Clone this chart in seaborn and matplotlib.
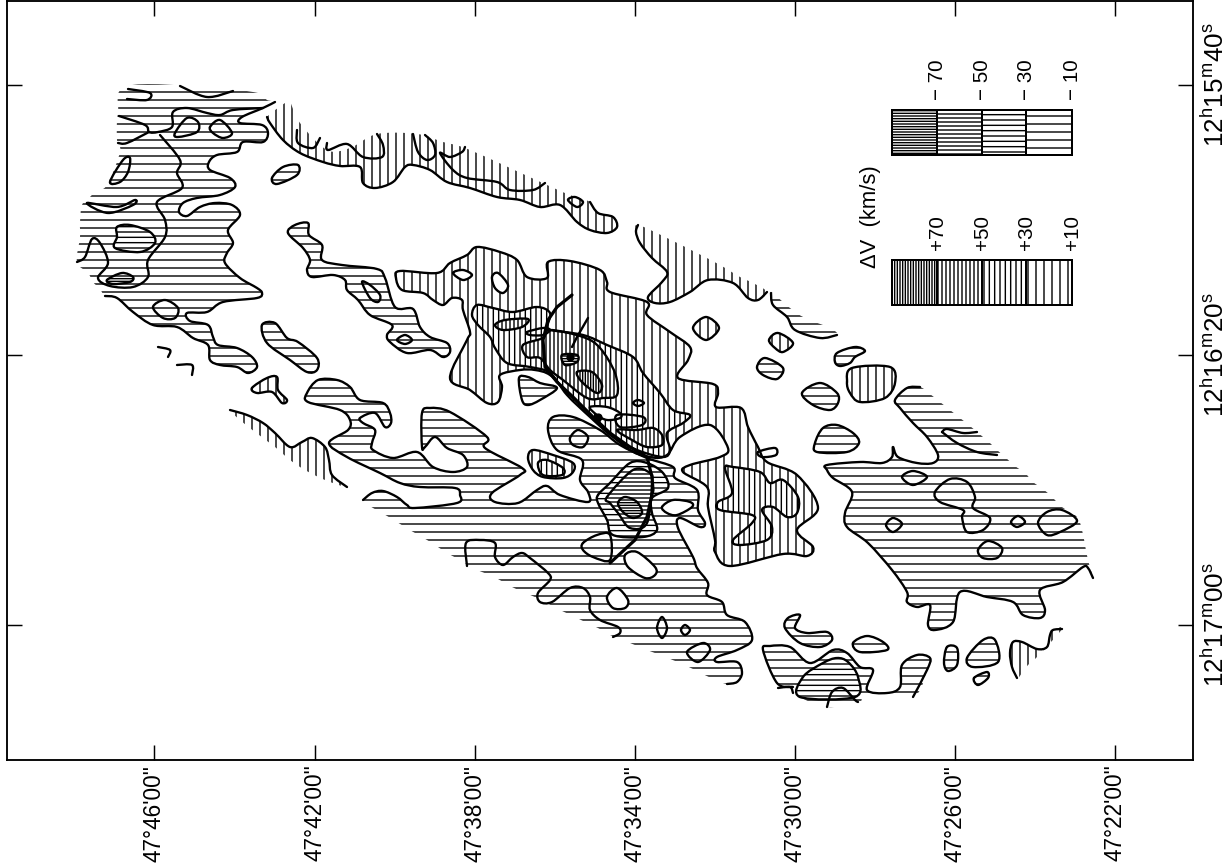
import numpy as np
import matplotlib
matplotlib.use('Agg')
import matplotlib.pyplot as plt
from matplotlib.path import Path
from matplotlib.patches import PathPatch, Rectangle
import pandas as pd
import seaborn as sns

dec_ticks = [154, 315, 475, 635, 795, 955, 1115]
dec_labels = ['47°46\'00"', '47°42\'00"', '47°38\'00"', '47°34\'00"', '47°30\'00"', '47°26\'00"', '47°22\'00"']
ra_ticks = [85, 355, 625]
ra_labels = ['12$^{h}$15$^{m}$40$^{s}$', '12$^{h}$16$^{m}$20$^{s}$', '12$^{h}$17$^{m}$00$^{s}$']

plus_levels = ['+70', '+50', '+30', '+10']
minus_levels = ['\u2212 70', '\u2212 50', '\u2212 30', '\u2212 10']

# --- approaching side (horizontal hatch)
nw_line = [(105,296),(117,298),(133,312),(153,325),(177,327),(193,338),(208,345),(210,360),(220,365),(237,367),
           (248,373),(257,367),(252,357),(237,348),(218,345),(213,337),(208,325),(190,321),(187,313),(207,312),
           (223,302),(257,298),(262,293),(257,288),(240,278),(225,263),(227,253),(233,243),(228,230),(240,215),
           (232,205),(215,203),(200,207),(187,216),(179,212),(183,203),(197,198),(220,195),(235,187),(230,178),
           (210,170),(209,162),(217,155),(237,152),(243,142),(263,142),(268,133),(262,125),(240,123),(242,117),
           (263,108),(275,102)]
nw_env = [(267,100),(258,93),(207,87),(127,86),(118,113),(117,140),(120,152),(107,185),(95,192),(90,197),
          (82,205),(80,223),(80,237),(77,262),(88,273),(93,282),(100,289)]
nw_inner_a = [(128,89),(150,93),(147,100),(127,99)]
nw_inner_b = [(180,86),(207,97),(233,91)]
nw_inner_c = [(119,116),(145,125),(149,132),(158,132),(172,127),(173,112),(187,108),(207,113),(220,115),(233,110),(263,108)]
nw_inner_d = [(149,132),(127,143),(118,143)]
nw_inner_e = [(160,135),(180,160),(177,173),(182,188),(157,202),(165,220),(165,237),(148,260),(148,277),(133,287),
              (110,286),(98,278),(108,263),(100,243),(92,239),(85,257),(77,262)]
nw_leaf = [(87,203),(108,213),(133,205),(135,200),(117,207)]
nw_patch_g = [(117,227),(130,225),(150,232),(155,243),(140,252),(115,248),(117,237)]
nw_patch_h = [(107,280),(122,273),(133,277),(130,282),(113,284)]
nw_ring_i = [(175,133),(187,118),(198,122),(197,132),(178,137)]
nw_ring_j = [(210,127),(220,120),(232,133),(223,138),(213,133)]
nw_ring_k = [(110,182),(123,160),(130,158),(128,172),(120,182)]
nw_ring_l = [(153,307),(165,300),(178,308),(175,318),(163,318)]
nw_tick_m = [(158,347),(170,350),(168,357)]
nw_tick_n = [(177,365),(192,365),(192,375)]

blob_r = [(262,325),(275,323),(287,338),(298,342),(317,358),(317,370),(307,372),(290,360),(267,343)]
blob_s = [(272,178),(283,167),(298,165),(297,175),(277,184)]
chain = [(288,233),(295,225),(308,223),(309,235),(322,245),(322,260),(342,265),(377,269),(385,278),(395,307),
         (413,309),(420,327),(430,337),(447,343),(450,352),(443,357),(430,350),(407,353),(390,342),(387,335),
         (392,325),(370,315),(358,300),(347,290),(345,280),(333,275),(312,277),(307,270),(310,260),(303,248)]
chain_in_a = [(362,282),(370,285),(380,295),(378,302),(370,298)]
chain_in_b = [(397,340),(405,335),(412,340),(405,344)]

south_line = [(363,500),(372,493),(383,491),(397,497),(407,505),(415,508),(457,503),(460,495),(455,488),(420,487),
              (400,483),(380,473),(347,457),(329,443),(348,430),(350,420),(340,410),(308,402),(307,393),(318,380),
              (337,380),(350,387),(360,400),(383,403),(390,413),(391,423),(385,427),(375,413),(360,418),(363,423),
              (375,430),(372,443),(373,450),(393,458),(417,452),(433,467),(453,472),(467,467),(463,455),(447,448),
              (435,437),(425,447),(422,447),(422,413),(430,408),(450,412),(487,437),(485,448),(522,468),(520,475),
              (492,493),(495,502),(518,503),(537,490),(547,486),(560,495),(588,502),(588,492),(580,480),(582,460),
              (557,450),(548,430),(553,417),(573,417),(600,430),(620,445),(647,458),(673,467),(675,478),(697,490),
              (698,510),(705,523),(700,527),(680,518),(678,528),(693,557),(697,568),(708,583),(707,595),(722,602),
              (727,615),(745,622),(752,640),(737,650),(717,657),(717,662),(737,662),(742,673),(737,682),(727,684)]
south_env = [(713,679),(697,671),(680,663),(660,655),(642,648),(623,640),(610,635),(598,628),(585,622),(573,616),
             (560,610),(537,598),(523,592),(510,586),(498,579),(487,574),(473,568),(460,560),(447,553),(435,545),
             (422,537),(408,529),(397,522),(382,513),(368,505)]
south_ring = [(570,438),(578,430),(588,437),(583,447),(573,445)]
south_notch = [(467,566),(466,543),(480,540),(495,543),(495,557),(503,565),(513,557),(522,553),(530,558),(548,573),
               (550,580),(538,593),(540,602),(552,602),(570,588),(583,588),(590,597),(590,610),(600,620),(618,627),
               (620,633),(613,637)]
south_o1 = [(598,495),(610,483),(630,463),(647,463),(663,473),(668,488),(652,498),(652,513),(657,530),(643,537),
            (613,535),(607,520),(598,503)]
south_o2 = [(607,497),(633,470),(650,473),(652,483),(647,523),(630,528),(618,513),(610,503)]
south_o3 = [(618,503),(625,497),(637,502),(642,513),(633,518),(623,512)]
south_o4 = [(583,543),(597,535),(610,535),(610,560),(593,557),(583,550)]
south_hole_a = [(662,507),(673,500),(690,502),(692,507),(677,515),(667,513)]
south_hole_b = [(625,555),(637,552),(655,567),(655,575),(645,578),(628,567)]
south_hole_c = [(607,597),(617,588),(628,600),(625,608),(613,608)]
south_ring_a = [(657,628),(662,617),(667,628),(662,638)]
south_ring_b = [(681,630),(685,625),(690,630),(685,635)]
south_ring_c = [(687,652),(703,643),(710,650),(698,662)]

east_line = [(920,387),(907,388),(895,400),(900,408),(913,423),(927,437),(938,455),(933,463),(917,463),(898,457),
             (893,447),(892,457),(882,463),(860,462),(827,465),(827,470),(833,478),(852,492),(845,513),(847,527),
             (868,543),(892,570),(907,592),(907,602),(917,607),(930,605),(928,625),(935,630),(953,622),(960,592),
             (987,597),(1013,602),(1023,615),(1040,618),(1045,610),(1040,590),(1063,582),(1083,567),(1088,568),(1093,578)]
east_env = [(1088,560),(1085,545),(1082,530),(1077,517),(1062,507),(1052,497),(1043,489),(1033,482),(1025,473),
            (1015,466),(1005,457),(997,450),(990,443),(983,437),(970,426),(960,418),(950,410),(940,402),(930,394)]
east_in_a = [(942,432),(947,429),(963,433),(977,432)]
east_in_b = [(942,432),(957,443),(977,452),(997,455)]
east_ring_a = [(902,477),(913,471),(927,477),(913,485)]
east_ring_b = [(935,492),(950,479),(967,482),(975,497),(973,508),(990,518),(983,530),(967,532),(962,517),(963,510),(940,502)]
east_ring_c = [(886,525),(893,518),(902,524),(893,532)]
east_ring_d = [(1011,522),(1018,516),(1025,522),(1017,527)]
east_ring_e = [(978,550),(988,541),(1002,548),(997,558),(983,558)]
east_ring_f = [(1077,521),(1062,510),(1047,512),(1038,523),(1047,535),(1060,532)]

upper_line = [(771,293),(773,305),(787,317),(795,330),(820,338),(837,335)]
upper_env = [(830,328),(805,318),(790,308),(775,295)]
spot_a = [(757,367),(765,358),(783,368),(777,379),(763,375)]
spot_b = [(835,362),(837,353),(855,347),(865,351),(855,357),(850,363),(840,366)]
spot_c = [(802,393),(820,383),(837,393),(838,403),(830,410),(813,405)]
spot_d = [(815,443),(823,428),(837,425),(853,433),(859,443),(847,452),(817,452)]
spot_e = [(785,628),(788,618),(800,615),(795,628),(807,633),(827,632),(832,640),(820,647),(800,643)]
spot_f = [(853,643),(867,636),(883,642),(887,650),(860,652)]
spot_g = [(947,647),(957,648),(957,665),(948,671),(944,663)]
spot_h = [(967,658),(983,640),(995,640),(998,662),(973,667)]
spot_i = [(974,678),(987,672),(988,678),(978,685)]
tail_line = [(793,687),(777,683),(763,650),(770,646),(790,647),(810,663),(833,650),(847,653),(860,667),(873,670),
             (867,690),(887,693),(900,687),(902,665),(917,655),(930,658),(927,670),(913,697)]
tail_env = [(867,697),(858,703),(827,707),(800,697)]
tail_in_a = [(800,697),(803,677),(823,663),(837,658),(848,662),(858,677),(855,697)]
tail_in_b = [(827,707),(832,692),(843,688),(855,700),(858,702)]
tail_tick = [(778,688),(790,687),(793,693)]

# --- receding side (vertical hatch)
core_line = [(396,278),(400,271),(437,273),(450,263),(467,255),(477,247),(500,252),(517,260),(527,277),(547,278),
             (548,262),(570,261),(600,270),(607,282),(610,292),(647,302),(647,315),(670,332),(690,347),(688,360),
             (678,378),(713,384),(718,393),(716,407),(741,408),(748,427),(758,447),(767,462),(797,475),(818,508),
             (797,530),(813,547),(807,556),(783,554),(730,566),(715,552),(715,540),(708,507),(707,487),(683,472),
             (690,465),(720,457),(728,448),(710,425),(680,437),(667,455),(650,457),(623,445),(567,392),(550,375),
             (535,370),(520,370),(500,375),(502,387),(498,402),(487,403),(470,390),(450,378),(467,340),(470,332),
             (463,310),(462,300),(452,298),(443,305),(433,300),(423,293),(402,290)]
core_spur = [(758,452),(775,448),(776,455),(762,457)]
core_hole_a = [(492,277),(498,273),(508,285),(503,293),(495,288)]
core_hole_b = [(453,273),(463,270),(472,275),(463,280)]
core_30 = [(472,315),(477,305),(493,308),(513,312),(537,307),(550,313),(547,327),(550,330),(583,335),(607,345),
           (633,357),(643,373),(660,393),(673,410),(690,415),(683,423),(667,433),(670,450),(663,457),(637,450),
           (613,437),(590,417),(567,395),(550,373),(530,367),(507,363),(495,348),(490,337),(478,325)]
core_50 = [(523,345),(543,338),(550,330),(583,337),(600,348),(615,373),(617,395),(603,398),(587,398),(563,380),
           (550,370),(540,358),(527,357)]
core_50b = [(495,325),(505,320),(528,319),(522,327),(503,330)]
core_small = [(527,332),(543,328),(550,330),(543,335),(530,335)]
core_70 = [(562,355),(577,355),(577,362),(565,365)]
core_60 = [(577,372),(592,372),(602,385),(597,393),(582,382)]
core_50c = [(617,430),(637,430),(653,428),(662,435),(662,445),(647,447),(632,440)]
core_white = [(590,407),(607,407),(620,413),(620,418),(607,420),(597,415)]
core_dot = [(633,403),(638,400),(644,403),(638,406)]
core_loop = [(617,415),(643,417),(642,425),(620,427)]
core_blue = [(519,378),(528,377),(540,383),(557,388),(540,400),(528,405),(522,400)]
lobe_30 = [(725,468),(733,467),(760,472),(770,483),(783,480),(798,497),(797,513),(787,517),(773,507),(762,510),
           (772,527),(767,540),(740,545),(733,540),(752,523),(752,515),(720,510),(718,502),(732,493)]
isle_a = [(528,458),(533,450),(553,455),(573,463),(573,472),(563,478),(543,477),(533,470)]
isle_b = [(538,463),(547,460),(563,468),(562,475),(543,475)]
isle_c = [(252,388),(267,378),(277,377),(278,390),(287,400),(282,403),(272,392),(257,393)]
isle_d = [(693,328),(706,317),(719,328),(706,340)]
isle_e = [(769,340),(778,333),(793,343),(783,352),(775,348)]
isle_f = [(847,382),(852,368),(890,367),(895,383),(885,398),(860,402),(850,393)]

band_line = [(267,117),(270,123),(283,140),(300,153),(323,162),(340,166),(360,167),(363,183),(375,188),(393,182),
             (405,167),(413,165),(430,170),(447,182),(470,188),(497,197),(520,200),(540,207),(560,205),(577,222),
             (590,230),(607,233),(617,227),(613,217),(598,213),(590,202)]
band_env = [(570,195),(547,185),(470,150),(443,142),(417,134),(377,134),(350,148),(327,150),(300,123),(290,102),(285,103)]
band_in_a = [(297,130),(298,143),(313,148),(320,138)]
band_in_b = [(327,143),(328,150),(347,144),(363,157),(382,157),(383,145),(377,134)]
band_in_c = [(413,134),(418,152),(427,160),(435,155),(433,143),(425,135)]
band_in_d = [(465,147),(462,152),(450,157),(440,153),(453,170),(467,178),(497,182),(510,190),(533,190),(545,183)]
band_ring = [(568,200),(575,197),(583,202),(577,207)]

arm_line = [(638,225),(636,232),(640,243),(652,258),(667,272),(662,282),(648,297),(655,303),(670,302),(690,292),
            (708,280),(733,283),(748,298),(758,300),(767,292)]
arm_env = [(753,283),(740,277),(720,265),(697,253),(665,237)]
west_line = [(230,410),(247,415),(263,423),(275,433),(290,447),(302,442),(312,438),(325,447),(329,460),(332,475),(347,487)]
west_env = [(325,480),(305,470),(290,460),(275,447),(255,432),(240,420)]
hook_line = [(1017,678),(1012,667),(1010,653),(1013,642),(1022,642),(1037,649),(1047,647),(1050,635),(1053,630),(1062,629)]
hook_env = [(1037,657),(1028,665),(1022,673)]

# thick arms and the two knots on them
arm_x = [572,557,548,543,545,557,573,593,610,630,647,652,653,647,635,610]
arm_y = [295,307,320,340,367,382,397,417,433,447,457,477,490,517,540,563]
spur_x = [588,577,572]
spur_y = [318,337,347]
knot_x = [598, 570]
knot_y = [417, 357]


def smooth(pts, closed=True):
    p = np.array(pts, dtype=float)
    n = len(p)
    if closed:
        get = lambda i: p[i % n]
        segs = range(n)
    else:
        get = lambda i: p[min(max(i, 0), n - 1)]
        segs = range(n - 1)
    verts, codes = [p[0]], [Path.MOVETO]
    for i in segs:
        verts += [get(i) + (get(i + 1) - get(i - 1)) / 6, get(i + 1) - (get(i + 2) - get(i)) / 6, get(i + 1)]
        codes += [Path.CURVE4, Path.CURVE4, Path.CURVE4]
    return Path(verts, codes)


def stroke(ax, pts, closed=False, lw=1.75):
    ax.add_patch(PathPatch(smooth(pts, closed), fc='none', ec='black', lw=lw, joinstyle='round', capstyle='round', zorder=4))


def area(ax, line, env=None, hatch=None, lw=1.75):
    # env is the part of the edge that has no contour drawn on it
    pts = line + env if env else line
    ax.add_patch(PathPatch(smooth(pts), fc='white', ec='black', hatch=hatch, lw=0, zorder=3))
    stroke(ax, line, closed=env is None, lw=lw)


dpi = 96
sns.set_theme(style='white')
plt.rcParams['font.family'] = ['Liberation Sans', 'DejaVu Sans']
plt.rcParams['hatch.linewidth'] = 1.05
plt.rcParams['mathtext.fontset'] = 'custom'
plt.rcParams['mathtext.rm'] = 'Liberation Sans'
plt.rcParams['mathtext.it'] = 'Liberation Sans'

W, H = 1231, 867
fig = plt.figure(figsize=((W + 0.01) / dpi, (H + 0.01) / dpi), dpi=dpi)
ax = fig.add_axes([6.5 / W, 1 - 760 / H, (1193 - 6.5) / W, 759 / H])
ax.set_xlim(6.5, 1193)
ax.set_ylim(760, 1)

H1, H2, H3, H4 = '--', '---', '----', '------'
V1, V2, V3, V4 = '||', '|||', '||||', '||||||'

# outer contours
for line, env, h in [(nw_line, nw_env, H1), (south_line, south_env, H1), (east_line, east_env, H1),
                     (upper_line, upper_env, H1), (tail_line, tail_env, H1), (band_line, band_env, V1),
                     (arm_line, arm_env, V1), (west_line, west_env, V1), (hook_line, hook_env, V1),
                     (core_line, None, V1), (chain, None, H1), (blob_r, None, H1), (blob_s, None, H1),
                     (spot_a, None, H1), (spot_b, None, H1), (spot_c, None, H1), (spot_d, None, H1),
                     (spot_e, None, H1), (spot_f, None, H1), (spot_g, None, H1), (spot_h, None, H1),
                     (spot_i, None, H1), (isle_c, None, V1), (isle_d, None, V1), (isle_e, None, V1),
                     (isle_f, None, V1), (isle_a, None, V1)]:
    area(ax, line, env, h)

# nested levels
for pts, h in [(nw_patch_g, H2), (nw_patch_h, H4), (core_30, V2), (lobe_30, V2), (core_50, V3), (core_50b, V3),
               (core_60, V4), (core_70, H4), (core_50c, V3), (isle_b, V2), (south_o4, H1), (south_o1, H2),
               (south_o2, H3), (south_o3, H4), (tail_in_a, H2), (core_blue, H1)]:
    area(ax, pts, None, h)

# white holes
for pts in [south_hole_a, south_hole_b, south_hole_c, core_hole_a, core_hole_b, core_white]:
    area(ax, pts, None, None)

# contours without a change of hatch
for pts in [nw_leaf, nw_ring_i, nw_ring_j, nw_ring_k, nw_ring_l, chain_in_a, chain_in_b, south_ring, south_ring_a,
            south_ring_b, south_ring_c, east_ring_a, east_ring_b, east_ring_c, east_ring_d, east_ring_e, east_ring_f,
            core_small, core_dot, core_loop, core_spur, band_ring]:
    stroke(ax, pts, closed=True)
for pts in [nw_inner_a, nw_inner_b, nw_inner_c, nw_inner_d, nw_inner_e, nw_tick_m, nw_tick_n, south_notch, east_in_a,
            east_in_b, tail_in_b, tail_tick, band_in_a, band_in_b, band_in_c, band_in_d]:
    stroke(ax, pts)

arm_df = pd.DataFrame({'x': arm_x, 'y': arm_y})
sns.lineplot(data=arm_df, x='x', y='y', sort=False, estimator=None, color='black', lw=2.4, ax=ax, zorder=5)
sns.lineplot(x=spur_x, y=spur_y, sort=False, estimator=None, color='black', lw=1.8, ax=ax, zorder=5)
sns.scatterplot(x=knot_x, y=knot_y, color='black', s=38, linewidth=0, ax=ax, zorder=5)

# key boxes
box_x = [892, 937, 982, 1026, 1072]
for y0, labels, hatches in [(260, plus_levels, [V4, V3, V2, V1]), (110, minus_levels, [H4, H3, H2, H1])]:
    for i, lab in enumerate(labels):
        ax.add_patch(Rectangle((box_x[i], y0), box_x[i + 1] - box_x[i], 45, fc='white', ec='black', hatch=hatches[i], lw=1.5, zorder=3))
        ax.text(box_x[i + 1], y0 - 10, lab, rotation=90, ha='center', va='bottom', fontsize=15.5, color='black')
ax.text(870, 217, '\u0394V  (km/s)', rotation=90, ha='center', va='center', fontsize=16.5, color='black')

ax.set_xticks(dec_ticks)
ax.set_xticklabels(dec_labels, rotation=90, fontsize=17, color='black')
ax.set_yticks(ra_ticks)
ax.set_yticklabels(ra_labels, rotation=90, va='center', fontsize=19.5, color='black')
ax.set_xlabel('')
ax.set_ylabel('')
ax.tick_params(axis='both', direction='in', length=11.5, width=1.1, color='black', top=True, right=True,
               bottom=True, left=True, labelleft=False, labelright=True)
ax.tick_params(axis='x', pad=3.5)
ax.tick_params(axis='y', pad=7)
for s in ax.spines.values():
    s.set_color('black')
    s.set_linewidth(1.4)

fig.savefig('out.png', dpi=dpi)
